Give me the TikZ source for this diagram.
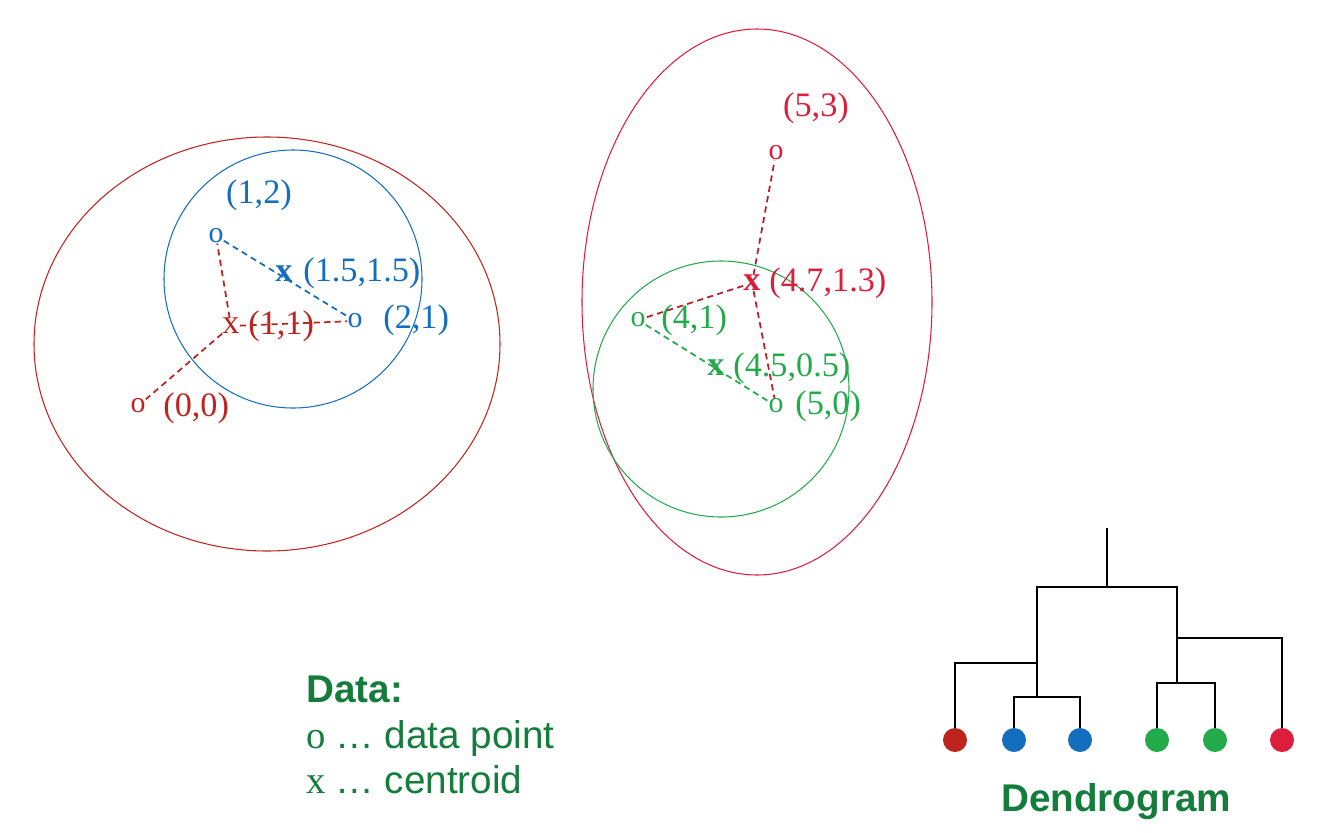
\documentclass[tikz,border=0pt]{standalone}
\usepackage{fontspec}
\setmainfont{Liberation Serif}
\setsansfont{Liberation Sans}
\usepackage{xcolor}
\definecolor{leftred}{RGB}{190, 35, 30}
\definecolor{ptblue}{RGB}{20, 110, 190}
\definecolor{ptgreen}{RGB}{35, 170, 75}
\definecolor{rightred}{RGB}{220, 30, 60}
\definecolor{dashred}{RGB}{185, 30, 40}
\definecolor{textgreen}{RGB}{20, 125, 60}
\begin{document}
\begin{tikzpicture}[
  x=0.02cm, y=-0.02cm,
  every node/.style={font=\fontsize{19.5}{22}\selectfont, inner sep=0pt},
  pt/.style={font=\fontsize{17}{20}\selectfont},
  cent/.style={font=\fontsize{19.5}{22}\selectfont\bfseries},
  lab/.style={anchor=west},
  link/.style={dash pattern=on 3.5pt off 2.5pt, line width=1pt},
  ring/.style={line width=0.6pt},
  leaf/.style={circle, minimum size=0.48cm},
  tree/.style={line width=1.2pt}
]
  \useasboundingbox (0,0) rectangle (1322,832);

  \draw[ring, leftred]  (267,344) ellipse [x radius=233, y radius=207];
  \draw[ring, ptblue]   (293,279) circle [radius=129];
  \draw[ring, rightred] (757,302) ellipse [x radius=175, y radius=273];
  \draw[ring, ptgreen]  (721,389) circle [radius=128];

  \node[pt, ptblue]  (p12) at (216,236) {o};
  \node[pt, ptblue]  (p21) at (355,321) {o};
  \node[pt, leftred] (p00) at (138,406) {o};
  \node[cent, ptblue] (c1) at (284,274) {x};
  \node[leftred]      (c2) at (231,326) {x};
  \node[ptblue]            (l12) at (259,195) {(1,2)};
  \node[lab, ptblue]       (l21) at (383,320) {(2,1)};
  \node[lab, ptblue]       (lc1) at (303,273) {(1.5,1.5)};
  \node[lab, leftred]      (lc2) at (248,326) {(1,1)};
  \node[lab, leftred]      (l00) at (163,408) {(0,0)};

  \draw[link, leftred] (c2) -- (p12);
  \draw[link, leftred] (c2) -- (p00);
  \draw[link, leftred] (c2) -- (p21);
  \draw[link, ptblue]  (p12) -- (p21);

  \node[pt, rightred] (p53) at (776,153) {o};
  \node[pt, ptgreen]  (p41) at (638,320) {o};
  \node[pt, ptgreen]  (p50) at (776,406) {o};
  \node[cent, rightred] (c3) at (752,283) {x};
  \node[cent, ptgreen]  (c4) at (716,368) {x};
  \node[rightred]          (l53) at (816,108) {(5,3)};
  \node[lab, rightred]     (lc3) at (769,283) {(4.7,1.3)};
  \node[lab, ptgreen]      (l41) at (661,320) {(4,1)};
  \node[lab, ptgreen]      (lc4) at (733,368) {(4.5,0.5)};
  \node[lab, ptgreen]      (l50) at (795,406) {(5,0)};

  \draw[link, dashred] (c3) -- (p53);
  \draw[link, dashred] (c3) -- (p41);
  \draw[link, dashred] (c3) -- (p50);
  \draw[link, ptgreen] (p41) -- (p50);

  \node[anchor=west, align=left, textgreen, font=\fontsize{22}{26}\selectfont]
    (legend) at (306,735)
    {\sffamily\bfseries Data:\\ \rmfamily o \sffamily\ldots\ data point\\ \rmfamily x \sffamily\ldots\ centroid};

  \node[leaf, fill=leftred]  (t1) at (955,740)  {};
  \node[leaf, fill=ptblue]   (t2) at (1014,740) {};
  \node[leaf, fill=ptblue]   (t3) at (1080,740) {};
  \node[leaf, fill=ptgreen]  (t4) at (1157,740) {};
  \node[leaf, fill=ptgreen]  (t5) at (1215,740) {};
  \node[leaf, fill=rightred] (t6) at (1282,740) {};

  \coordinate (root) at (1107,528);
  \coordinate (top)  at (1107,587);
  \coordinate (ja)   at (1037,587);
  \coordinate (jb)   at (1177,587);
  \coordinate (jl)   at (1037,663);
  \coordinate (jblue) at (1037,697);
  \coordinate (jr)   at (1177,638);
  \coordinate (jg)   at (1177,683);

  \draw[tree] (root) -- (top);
  \draw[tree] (jblue) -- (ja) -- (jb) -- (jg);
  \draw[tree] (t1) |- (jl);
  \draw[tree] (t2) |- (jblue) -| (t3);
  \draw[tree] (jr) -| (t6);
  \draw[tree] (t4) |- (jg) -| (t5);

  \node[textgreen, font=\fontsize{22}{26}\selectfont\sffamily\bfseries]
    (dlab) at (1116,802) {Dendrogram};
\end{tikzpicture}
\end{document}
